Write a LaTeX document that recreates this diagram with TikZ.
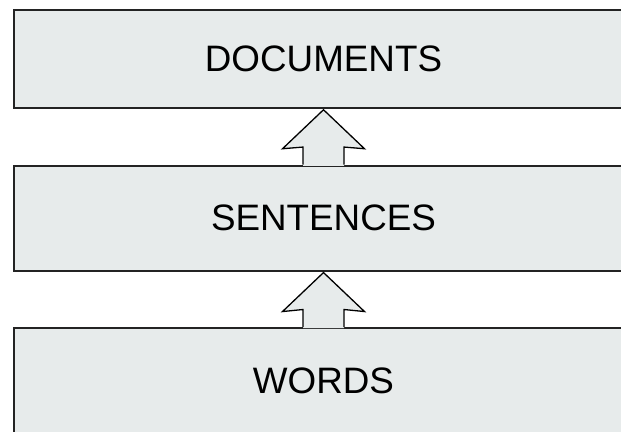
\documentclass[tikz,border=0pt]{standalone}
\usepackage{fontspec}
\setmainfont{Liberation Sans}
\usetikzlibrary{calc}
\definecolor{boxfill}{RGB}{231,235,235}
\definecolor{boxline}{RGB}{35,35,35}
\tikzset{
  layerbox/.style={draw=boxline, line width=2pt, fill=boxfill, minimum width=619pt, inner sep=0pt,
    font=\fontsize{36.8}{44}\selectfont, text=black},
  arrowbody/.style={fill=boxfill},
  arrowedge/.style={draw=black, line width=1.3pt, line join=miter},
}
\begin{document}
\begin{tikzpicture}[x=1pt,y=-1pt]
\useasboundingbox (0,0) rectangle (621,431);
\clip (0,0) rectangle (621,431);
\node[layerbox, minimum height=98.5pt] (docs) at (323.5,59) {DOCUMENTS};
\node[layerbox, minimum height=105.5pt] (sent) at (323.5,218.3) {SENTENCES};
\node[layerbox, minimum height=105pt] (words) at (323.5,380.5) {WORDS};
% block arrows
\foreach \lo/\hi in {sent/docs, words/sent}{
  \fill[arrowbody] ($(\lo.north)+(-20.5,1.2)$) -- ($(\lo.north)+(-20.5,-17.5)$) -- ($(\hi.south)+(-41,39.5)$)
     -- ($(\hi.south)+(0,0.5)$) -- ($(\hi.south)+(41,39.5)$) -- ($(\lo.north)+(20.5,-17.5)$) -- ($(\lo.north)+(20.5,1.2)$) -- cycle;
  \draw[arrowedge] ($(\lo.north)+(-20.5,0)$) -- ($(\lo.north)+(-20.5,-17.5)$) -- ($(\hi.south)+(-41,39.5)$)
     -- ($(\hi.south)+(0,0.5)$) -- ($(\hi.south)+(41,39.5)$) -- ($(\lo.north)+(20.5,-17.5)$) -- ($(\lo.north)+(20.5,0)$);
}
\end{tikzpicture}
\end{document}
